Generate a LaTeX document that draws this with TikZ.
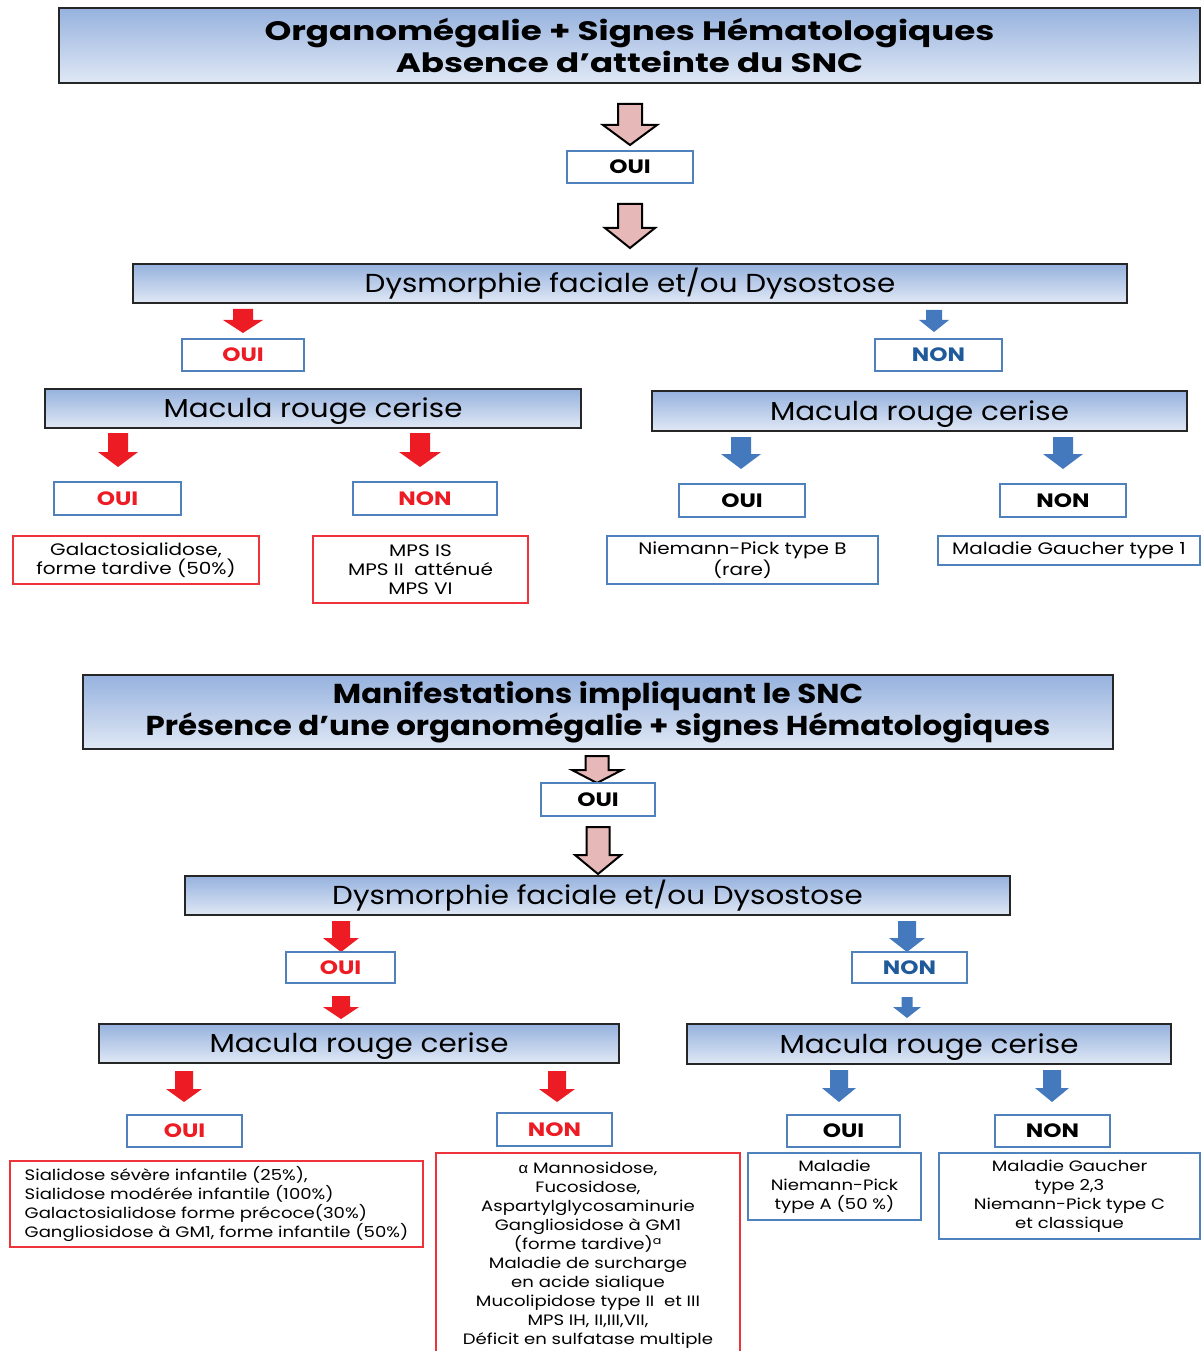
\documentclass[tikz,border=0pt]{standalone}
\usepackage{fontspec}
\setmainfont{Poppins}
\newfontfamily\ftA{Poppins}[FakeStretch=1.28]
\newfontfamily\ftB{Poppins}[FakeStretch=1.13]
\newfontfamily\ftC{Poppins}[FakeStretch=1.2]
\newfontfamily\alphafont{Liberation Sans}[FakeStretch=1.1]
\definecolor{gtop}{RGB}{150,178,222}
\definecolor{gbot}{RGB}{224,232,245}
\definecolor{pinkA}{RGB}{230,184,183}
\definecolor{redA}{RGB}{237,28,36}
\definecolor{blueA}{RGB}{68,121,190}
\definecolor{boxblue}{RGB}{79,129,189}
\definecolor{nonblue}{RGB}{31,90,155}
\newcommand{\boxat}[7]{%
  \node[#2, minimum width={(#5-#3)*0.75pt}, minimum height={(#6-#4)*0.75pt}] (#1) at ({(#3+#5)/2},{(#4+#6)/2}) {#7};}
\newcommand{\dnarrow}[8]{%
  \path[#2] ({#3-#7},#4) -- ({#3+#7},#4) -- ({#3+#7},#5) -- ({#3+#8},#5) -- (#3,#6) -- ({#3-#8},#5) -- ({#3-#7},#5) -- cycle;
  \coordinate (#1) at (#3,#6);}
\tikzset{
  hdr/.style={draw=black!85, line width=1.4pt, top color=gtop, bottom color=gbot, inner sep=0pt, align=center},
  titleA/.style={font=\ftA\bfseries\fontsize{20}{24}\selectfont},
  titleB/.style={font=\ftB\bfseries\fontsize{20.5}{24}\selectfont},
  hdrfont/.style={font=\ftB\fontsize{19.5}{23}\selectfont, text height=17.5pt, text depth=4pt},
  ansbox/.style={draw=boxblue, line width=1.1pt, fill=white, inner sep=0pt, font=\ftC\bfseries\fontsize{14.5}{17}\selectfont},
  redbox/.style={draw=redA!90, line width=1pt, inner sep=0pt, align=center},
  bluebox/.style={draw=boxblue, line width=1pt, inner sep=0pt, align=center},
  bodyA/.style={font=\ftC\fontsize{12.5}{14.25}\selectfont},
  bodyB/.style={font=\ftC\fontsize{11.3}{14.25}\selectfont},
  pinkarrow/.style={draw=black, line width=1.5pt, fill=pinkA, line join=miter},
  redarrow/.style={fill=redA},
  bluearrow/.style={fill=blueA},
}
\begin{document}
\begin{tikzpicture}[x=0.75pt, y=-0.75pt]
\useasboundingbox (0,0) rectangle (1201,1351);
\clip (0,0) rectangle (1201,1351);
% ---------- Section 1 ----------
\boxat{t1}{hdr,titleA}{59}{8}{1200}{83}{Organomégalie + Signes Hématologiques\\Absence d’atteinte du SNC}
\dnarrow{a1}{pinkarrow}{630}{104}{125}{145}{12}{27}
\boxat{oui1}{ansbox}{567}{151}{693}{183}{OUI}
\dnarrow{a2}{pinkarrow}{630}{204}{228}{248}{12}{25}
\boxat{dys1}{hdr,hdrfont}{133}{264}{1127}{303}{Dysmorphie faciale et/ou Dysostose}
\dnarrow{r1}{redarrow}{243}{309}{320}{333}{10}{20}
\dnarrow{b1}{bluearrow}{934}{310}{320}{332}{8}{15}
\boxat{oui2}{ansbox,text=redA}{182}{339}{304}{371}{OUI}
\boxat{non2}{ansbox,text=nonblue}{875}{339}{1002}{371}{NON}
\boxat{mac1}{hdr,hdrfont}{45}{389}{581}{428}{Macula rouge cerise}
\boxat{mac2}{hdr,hdrfont}{652}{391}{1187}{431}{Macula rouge cerise}
\dnarrow{r2}{redarrow}{118}{433}{452}{467}{10}{20}
\dnarrow{r3}{redarrow}{420}{433}{452}{467}{10}{21}
\dnarrow{b2}{bluearrow}{741}{437}{454}{469}{10}{20}
\dnarrow{b3}{bluearrow}{1063}{437}{454}{469}{10}{20}
\boxat{oui3}{ansbox,text=redA}{54}{482}{181}{515}{OUI}
\boxat{non3}{ansbox,text=redA}{353}{482}{497}{515}{NON}
\boxat{oui4}{ansbox}{679}{484}{805}{517}{OUI}
\boxat{non4}{ansbox}{1000}{484}{1126}{517}{NON}
\boxat{galac}{redbox,bodyA}{13}{536}{259}{584}{Galactosialidose,\\forme tardive (50\%)}
\boxat{mps}{redbox,bodyA}{313}{536}{528}{603}{MPS IS\\MPS II\ \ atténué\\MPS VI}
\boxat{npb}{bluebox,bodyA}{607}{536}{878}{584}{Niemann-Pick type B\\(rare)}
\boxat{gau1}{bluebox,bodyA}{938}{536}{1200}{565}{Maladie Gaucher type 1}
% ---------- Section 2 ----------
\boxat{t2}{hdr,titleB}{83}{675}{1113}{749}{Manifestations impliquant le SNC\\Présence d’une organomégalie + signes Hématologiques}
\dnarrow{a3}{pinkarrow}{597}{756}{770}{783}{11.5}{25}
\boxat{oui5}{ansbox}{541}{783}{655}{816}{OUI}
\dnarrow{a4}{pinkarrow}{598}{827}{855}{874}{11.5}{23}
\boxat{dys2}{hdr,hdrfont}{185}{876}{1010}{915}{Dysmorphie faciale et/ou Dysostose}
\dnarrow{r4}{redarrow}{341}{921}{938}{952}{9}{18}
\dnarrow{b4}{bluearrow}{907}{921}{938}{952}{9}{18}
\boxat{oui6}{ansbox,text=redA}{286}{952}{395}{983}{OUI}
\boxat{non6}{ansbox,text=nonblue}{852}{952}{967}{983}{NON}
\dnarrow{r5}{redarrow}{341}{996}{1007}{1019}{9}{18}
\dnarrow{b5}{bluearrow}{907}{997}{1007}{1018}{5.5}{14}
\boxat{mac3}{hdr,hdrfont}{99}{1024}{619}{1063}{Macula rouge cerise}
\boxat{mac4}{hdr,hdrfont}{687}{1024}{1171}{1064}{Macula rouge cerise}
\dnarrow{r6}{redarrow}{184}{1071}{1089}{1102}{9}{18}
\dnarrow{r7}{redarrow}{557}{1071}{1089}{1102}{9}{18}
\dnarrow{b6}{bluearrow}{839}{1070}{1088}{1102}{9}{17}
\dnarrow{b7}{bluearrow}{1052}{1070}{1088}{1102}{9}{17}
\boxat{oui7}{ansbox,text=redA}{127}{1115}{242}{1147}{OUI}
\boxat{non7}{ansbox,text=redA}{497}{1113}{612}{1146}{NON}
\boxat{oui8}{ansbox}{787}{1115}{900}{1147}{OUI}
\boxat{non8}{ansbox}{995}{1115}{1110}{1147}{NON}
\boxat{sial}{redbox,bodyB,align=left}{10}{1161}{423}{1247}{Sialidose sévère infantile (25\%),\\Sialidose modérée infantile (100\%)\\Galactosialidose forme précoce(30\%)\\Gangliosidose à GM1, forme infantile (50\%)}
\boxat{mann}{redbox,bodyB}{436}{1153}{740}{1358}{{\alphafont α} Mannosidose,\\Fucosidose,\\Aspartylglycosaminurie\\Gangliosidose à GM1\\(forme tardive)\textsuperscript{a}\\Maladie de surcharge\\en acide sialique\\Mucolipidose type II\ \ et III\\MPS IH, II,III,VII,\\Déficit en sulfatase multiple}
\boxat{npa}{bluebox,bodyB}{748}{1153}{921}{1220}{Maladie\\Niemann-Pick\\type A (50 \%)}
\boxat{gau2}{bluebox,bodyB}{939}{1153}{1200}{1239}{Maladie Gaucher\\type 2,3\\Niemann-Pick type C\\et classique}
\end{tikzpicture}
\end{document}
